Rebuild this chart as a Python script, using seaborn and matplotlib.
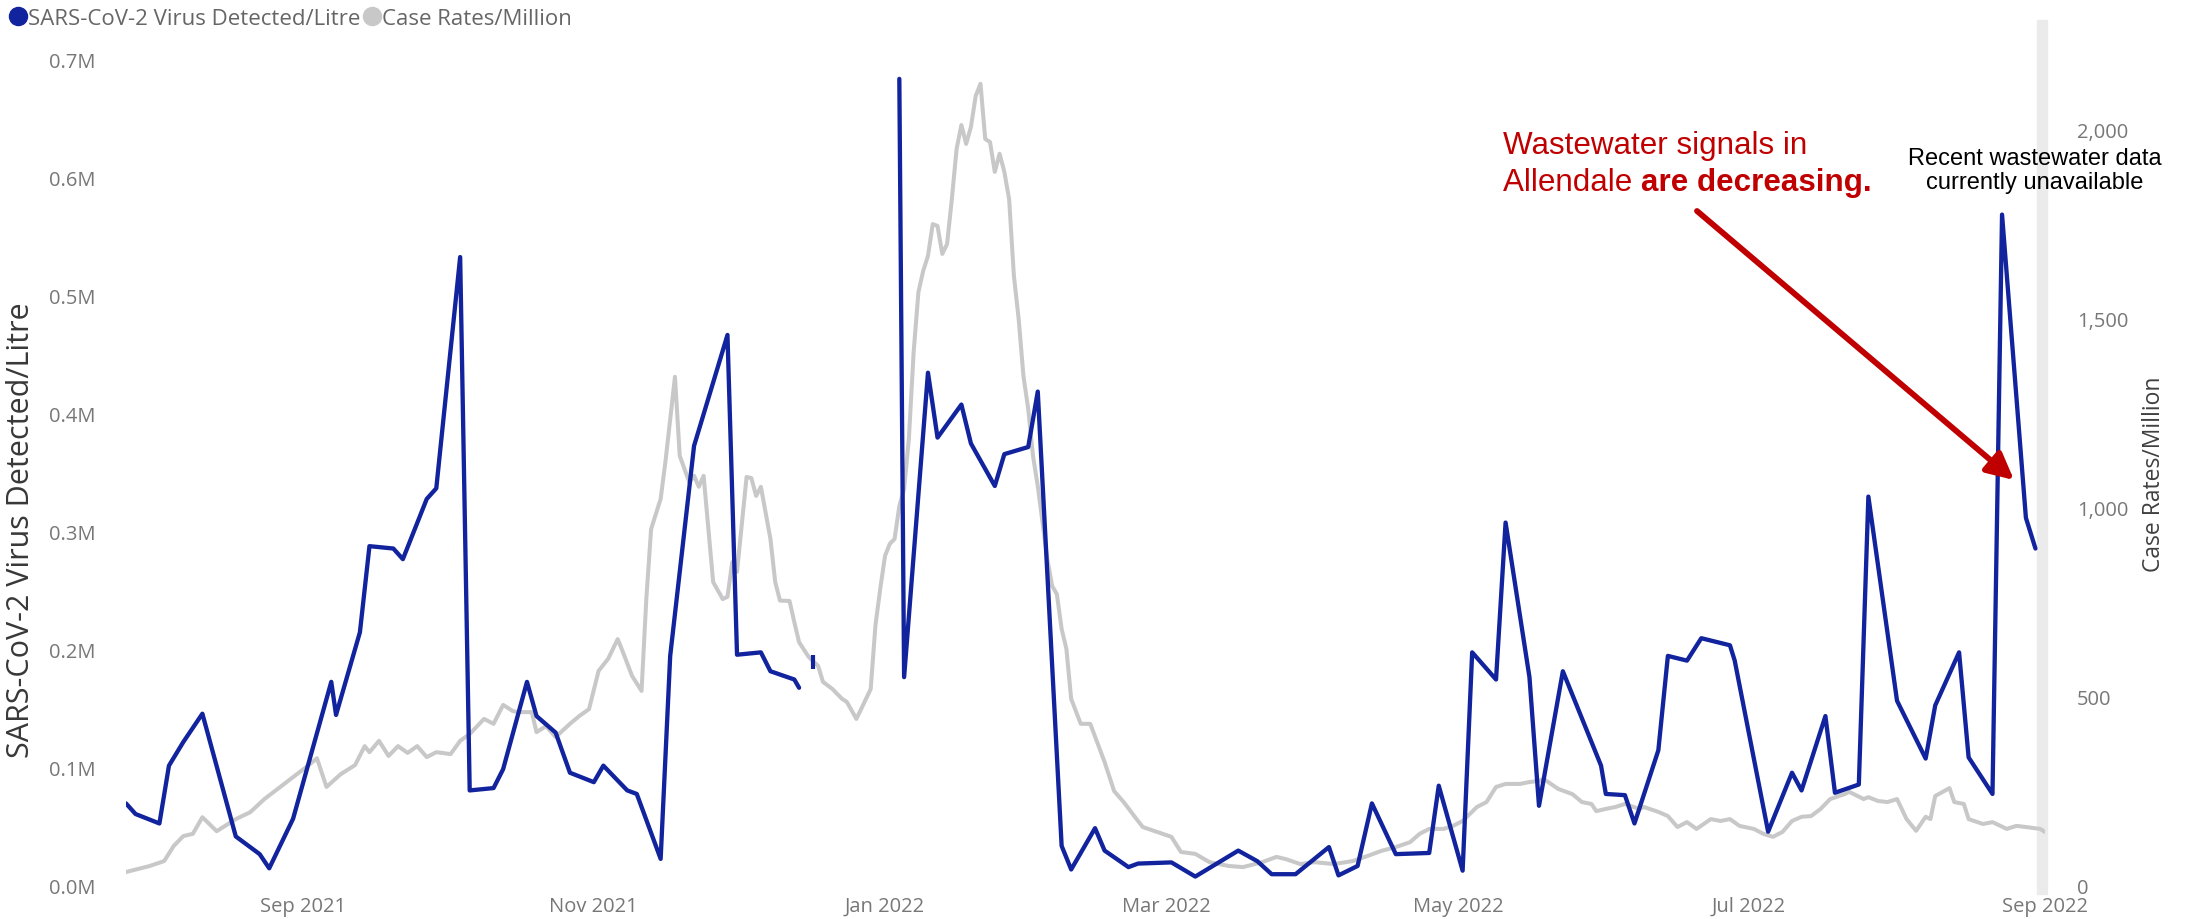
import pandas as pd
import matplotlib
matplotlib.use("Agg")
import matplotlib.pyplot as plt
import matplotlib.dates as mdates
import matplotlib.ticker as mticker
import matplotlib.patheffects as pe
from matplotlib.lines import Line2D
from matplotlib.patches import Rectangle
import seaborn as sns

# wastewater samples (copies / litre), None = break in the line
ww_dates = [
    "2021-07-26", "2021-07-28", "2021-08-02", "2021-08-04", "2021-08-07", "2021-08-11", "2021-08-18",
    "2021-08-23", "2021-08-25", "2021-08-30", "2021-09-07", "2021-09-08", "2021-09-13", "2021-09-15",
    "2021-09-20", "2021-09-22", "2021-09-27", "2021-09-29", "2021-10-04", "2021-10-06", "2021-10-11",
    "2021-10-13", "2021-10-18", "2021-10-20", "2021-10-24", "2021-10-27", "2021-11-01", "2021-11-03",
    "2021-11-08", "2021-11-10", "2021-11-15", "2021-11-17", "2021-11-22", "2021-11-29", "2021-12-01",
    "2021-12-06", "2021-12-08", "2021-12-13", "2021-12-14", "2021-12-15", "2021-12-17", "2021-12-18",
    "2022-01-04", "2022-01-05", "2022-01-10", "2022-01-12", "2022-01-17", "2022-01-19", "2022-01-24",
    "2022-01-26", "2022-01-31", "2022-02-02", "2022-02-07", "2022-02-09", "2022-02-14", "2022-02-16",
    "2022-02-21", "2022-02-23", "2022-03-02", "2022-03-07", "2022-03-16", "2022-03-20", "2022-03-23",
    "2022-03-28", "2022-04-04", "2022-04-06", "2022-04-10", "2022-04-13", "2022-04-18", "2022-04-25",
    "2022-04-27", "2022-05-02", "2022-05-04", "2022-05-09", "2022-05-11", "2022-05-16", "2022-05-18",
    "2022-05-23", "2022-05-31", "2022-06-01", "2022-06-05", "2022-06-07", "2022-06-12", "2022-06-14",
    "2022-06-18", "2022-06-21", "2022-06-27", "2022-06-28", "2022-07-05", "2022-07-10", "2022-07-12",
    "2022-07-17", "2022-07-19", "2022-07-24", "2022-07-26", "2022-08-01", "2022-08-07", "2022-08-09",
    "2022-08-14", "2022-08-16", "2022-08-21", "2022-08-23", "2022-08-28", "2022-08-30",
]
ww_values = [
    70000, 61000, 53000, 102000, 122000, 146000, 42000,
    27000, 15000, 57000, 173000, 145000, 215000, 288000,
    286000, 277000, 328000, 337000, 533000, 81000, 83000,
    99000, 173000, 144000, 130000, 96000, 88000, 102000,
    81000, 78000, 23000, 195000, 373000, 467000, 196000,
    198000, 182000, 175000, 168000, None, 190000, None,
    684000, 177000, 435000, 380000, 408000, 375000, 339000,
    366000, 372000, 419000, 34000, 14000, 49000, 30000,
    16000, 19000, 20000, 8000, 30000, 21000, 10000,
    10000, 33000, 9000, 17000, 70000, 27000, 28000,
    85000, 13000, 198000, 175000, 308000, 177000, 68000,
    182000, 102000, 78000, 77000, 53000, 115000, 195000,
    191000, 210000, 204000, 191000, 46000, 96000, 81000,
    144000, 79000, 86000, 330000, 157000, 108000, 153000,
    198000, 109000, 78000, 569000, 312000, 286000,
]

# case rates per million
case_dates = [
    "2021-07-26", "2021-07-31", "2021-08-03", "2021-08-05", "2021-08-07", "2021-08-09", "2021-08-11",
    "2021-08-14", "2021-08-18", "2021-08-21", "2021-08-24", "2021-08-27", "2021-08-29", "2021-09-02",
    "2021-09-04", "2021-09-06", "2021-09-09", "2021-09-12", "2021-09-14", "2021-09-15", "2021-09-17",
    "2021-09-19", "2021-09-21", "2021-09-23", "2021-09-25", "2021-09-27", "2021-09-29", "2021-10-02",
    "2021-10-04", "2021-10-06", "2021-10-09", "2021-10-11", "2021-10-13", "2021-10-15", "2021-10-16",
    "2021-10-19", "2021-10-20", "2021-10-22", "2021-10-24", "2021-10-27", "2021-10-29", "2021-10-31",
    "2021-11-02", "2021-11-04", "2021-11-06", "2021-11-07", "2021-11-09", "2021-11-11", "2021-11-12",
    "2021-11-13", "2021-11-15", "2021-11-16", "2021-11-18", "2021-11-19", "2021-11-21", "2021-11-22",
    "2021-11-23", "2021-11-24", "2021-11-25", "2021-11-26", "2021-11-28", "2021-11-29", "2021-11-30",
    "2021-12-01", "2021-12-03", "2021-12-04", "2021-12-05", "2021-12-06", "2021-12-08", "2021-12-09",
    "2021-12-10", "2021-12-12", "2021-12-13", "2021-12-14", "2021-12-16", "2021-12-18", "2021-12-19",
    "2021-12-21", "2021-12-23", "2021-12-24", "2021-12-26", "2021-12-27", "2021-12-29", "2021-12-30",
    "2021-12-31", "2022-01-01", "2022-01-02", "2022-01-03", "2022-01-04", "2022-01-05", "2022-01-06",
    "2022-01-07", "2022-01-08", "2022-01-09", "2022-01-10", "2022-01-11", "2022-01-12", "2022-01-13",
    "2022-01-14", "2022-01-15", "2022-01-16", "2022-01-17", "2022-01-18", "2022-01-19", "2022-01-20",
    "2022-01-21", "2022-01-22", "2022-01-23", "2022-01-24", "2022-01-25", "2022-01-26", "2022-01-27",
    "2022-01-28", "2022-01-29", "2022-01-30", "2022-01-31", "2022-02-01", "2022-02-02", "2022-02-04",
    "2022-02-05", "2022-02-06", "2022-02-07", "2022-02-08", "2022-02-09", "2022-02-11", "2022-02-13",
    "2022-02-15", "2022-02-16", "2022-02-18", "2022-02-20", "2022-02-23", "2022-02-24", "2022-02-27",
    "2022-03-02", "2022-03-04", "2022-03-07", "2022-03-10", "2022-03-14", "2022-03-17", "2022-03-21",
    "2022-03-24", "2022-03-26", "2022-03-29", "2022-04-01", "2022-04-05", "2022-04-09", "2022-04-12",
    "2022-04-15", "2022-04-18", "2022-04-21", "2022-04-23", "2022-04-25", "2022-04-28", "2022-04-30",
    "2022-05-02", "2022-05-05", "2022-05-07", "2022-05-09", "2022-05-11", "2022-05-14", "2022-05-16",
    "2022-05-18", "2022-05-19", "2022-05-22", "2022-05-25", "2022-05-27", "2022-05-29", "2022-05-30",
    "2022-06-01", "2022-06-03", "2022-06-05", "2022-06-08", "2022-06-09", "2022-06-12", "2022-06-14",
    "2022-06-16", "2022-06-18", "2022-06-20", "2022-06-23", "2022-06-25", "2022-06-27", "2022-06-29",
    "2022-07-02", "2022-07-04", "2022-07-06", "2022-07-08", "2022-07-10", "2022-07-12", "2022-07-14",
    "2022-07-16", "2022-07-18", "2022-07-21", "2022-07-22", "2022-07-25", "2022-07-26", "2022-07-28",
    "2022-07-30", "2022-08-01", "2022-08-03", "2022-08-05", "2022-08-07", "2022-08-08", "2022-08-09",
    "2022-08-12", "2022-08-13", "2022-08-15", "2022-08-16", "2022-08-19", "2022-08-21", "2022-08-24",
    "2022-08-26", "2022-08-28", "2022-08-31", "2022-09-01",
]
case_rates = [
    37, 53, 66, 106, 132, 138, 182,
    145, 177, 195, 230, 259, 278, 317,
    338, 262, 296, 320, 370, 354, 384,
    344, 370, 352, 370, 341, 354, 349,
    384, 402, 442, 429, 479, 463, 460,
    460, 407, 423, 394, 429, 450, 468,
    569, 601, 653, 622, 556, 516, 760,
    944, 1024, 1122, 1347, 1138, 1068, 1085,
    1056, 1085, 944, 804, 759, 765, 857,
    831, 1082, 1079, 1032, 1056, 918, 804,
    755, 754, 698, 645, 606, 582, 540,
    521, 495, 487, 442, 468, 521, 690,
    786, 873, 905, 918, 1005, 1050, 1183,
    1413, 1571, 1627, 1667, 1751, 1746, 1672,
    1698, 1817, 1950, 2013, 1963, 2008, 2090,
    2122, 1976, 1968, 1889, 1937, 1889, 1817,
    1614, 1500, 1349, 1262, 1138, 1058, 865,
    794, 772, 680, 627, 495, 429, 429,
    362, 328, 251, 222, 172, 156, 143,
    130, 90, 85, 63, 53, 50, 63,
    77, 71, 58, 63, 58, 66, 79,
    93, 103, 116, 138, 151, 151, 159,
    172, 209, 222, 262, 270, 270, 275,
    278, 283, 257, 243, 222, 217, 198,
    204, 209, 217, 204, 209, 196, 185,
    156, 169, 151, 177, 172, 177, 159,
    151, 138, 130, 143, 172, 183, 185,
    204, 230, 243, 249, 230, 235, 225,
    222, 230, 177, 146, 183, 177, 238,
    259, 222, 217, 177, 164, 169, 151,
    159, 156, 151, 143,
]

BLUE = "#12239E"
GRAY = "#C8C8C8"
RED = "#C00000"
W, H = 2185, 920

ww = pd.DataFrame({"date": pd.to_datetime(ww_dates), "value": ww_values})
ww["segment"] = ww["value"].isna().cumsum()
ww = ww.dropna()
seg_size = ww.groupby("segment")["value"].transform("size")
lone = ww[seg_size == 1]

cases = pd.DataFrame({"date": pd.to_datetime(case_dates), "rate": case_rates})

sns.set_theme(style="white")
plt.rcParams["font.family"] = ["Open Sans", "DejaVu Sans"]

fig = plt.figure(figsize=(W / 100, H / 100), dpi=100)
ax = fig.add_axes([126 / W, 33 / H, 1919 / W, 826 / H])
ax2 = ax.twinx()

# case rates underneath, wastewater on top
sns.lineplot(data=cases, x="date", y="rate", color=GRAY, lw=2.9, ax=ax2, legend=False)
sns.lineplot(data=ww, x="date", y="value", units="segment", estimator=None,
             color=BLUE, lw=3.1, ax=ax, legend=False)
sns.scatterplot(data=lone, x="date", y="value", marker="|", s=90, linewidth=3,
                color=BLUE, ax=ax, legend=False)
ax.set_zorder(ax2.get_zorder() + 1)
ax.patch.set_visible(False)
ax2.patch.set_visible(False)

ax.set_xlim(pd.Timestamp("2021-07-26"), pd.Timestamp("2022-09-01"))
ax.set_ylim(0, 700000)
ax2.set_ylim(0, 2185)
ax.xaxis.set_major_locator(mdates.MonthLocator(bymonth=[1, 3, 5, 7, 9, 11]))
ax.xaxis.set_major_formatter(mdates.DateFormatter("%b %Y"))
ax.yaxis.set_major_locator(mticker.MultipleLocator(100000))
ax.yaxis.set_major_formatter(mticker.FuncFormatter(lambda v, p: f"{v / 1e6:.1f}M"))
ax2.yaxis.set_major_locator(mticker.MultipleLocator(500))
ax2.yaxis.set_major_formatter(mticker.FuncFormatter(lambda v, p: f"{v:,.0f}"))

for a in (ax, ax2):
    for s in a.spines.values():
        s.set_visible(False)
    a.grid(False)
ax.tick_params(axis="x", length=0, pad=7, labelsize=14.5, labelcolor="#777777")
ax.tick_params(axis="y", length=0, pad=22, labelsize=14.5, labelcolor="#777777")
ax2.tick_params(axis="y", length=0, pad=23, labelsize=14.5, labelcolor="#777777")

ax.set_xlabel("")
ax.set_ylabel("SARS-CoV-2 Virus Detected/Litre", fontsize=22, color="#383838")
ax.yaxis.set_label_coords(-0.047, 0.432)
ax2.set_ylabel("Case Rates/Million", fontsize=16.5, color="#404040")
ax2.yaxis.set_label_coords(1.0506, 0.5)

# light grey bar at the right end of the plot
fig.add_artist(Rectangle((2037 / W, 1 - 895 / H), 10 / W, 874 / H,
                         transform=fig.transFigure, color="#EBEBEB", zorder=-1))

# legend
handles = [Line2D([], [], marker="o", ls="none", ms=13, color=BLUE),
           Line2D([], [], marker="o", ls="none", ms=13, color=GRAY)]
fig.legend(handles, ["SARS-CoV-2 Virus Detected/Litre", "Case Rates/Million"],
           loc="upper left", bbox_to_anchor=(0.002, 0.998), ncol=2, frameon=False,
           fontsize=16, handlelength=0.6, handletextpad=0.15, columnspacing=0.25,
           borderaxespad=0.1, borderpad=0.2, labelcolor="#666666")

# annotations
fig.text(1503 / W, 1 - 146 / H, "Wastewater signals in", color=RED, fontsize=22.6,
         family="Liberation Sans", ha="left", va="center")
t2 = fig.text(1503 / W, 1 - 183 / H, "Allendale ", color=RED, fontsize=22.6,
              family="Liberation Sans", ha="left", va="center")
ax.annotate("are decreasing.", xy=(1, 0.5), xycoords=t2, color=RED, fontsize=22.6,
            family="Liberation Sans", fontweight="bold", ha="left", va="center",
            annotation_clip=False)
fig.text(2035 / W, 1 - 171 / H, "Recent wastewater data\ncurrently unavailable",
         color="black", fontsize=17, family="Liberation Sans", ha="center", va="center",
         linespacing=1.15)

arrow = ax.annotate("", xy=(2014, H - 481), xycoords="figure pixels",
                    xytext=(1697, H - 212), textcoords="figure pixels",
                    arrowprops=dict(arrowstyle="-|>", color=RED, lw=4.2, mutation_scale=40,
                                    shrinkA=0, shrinkB=0),
                    annotation_clip=False)
arrow.arrow_patch.set_path_effects([pe.SimplePatchShadow(offset=(2, -2), alpha=0.35), pe.Normal()])

fig.savefig("out.png", dpi=100)
